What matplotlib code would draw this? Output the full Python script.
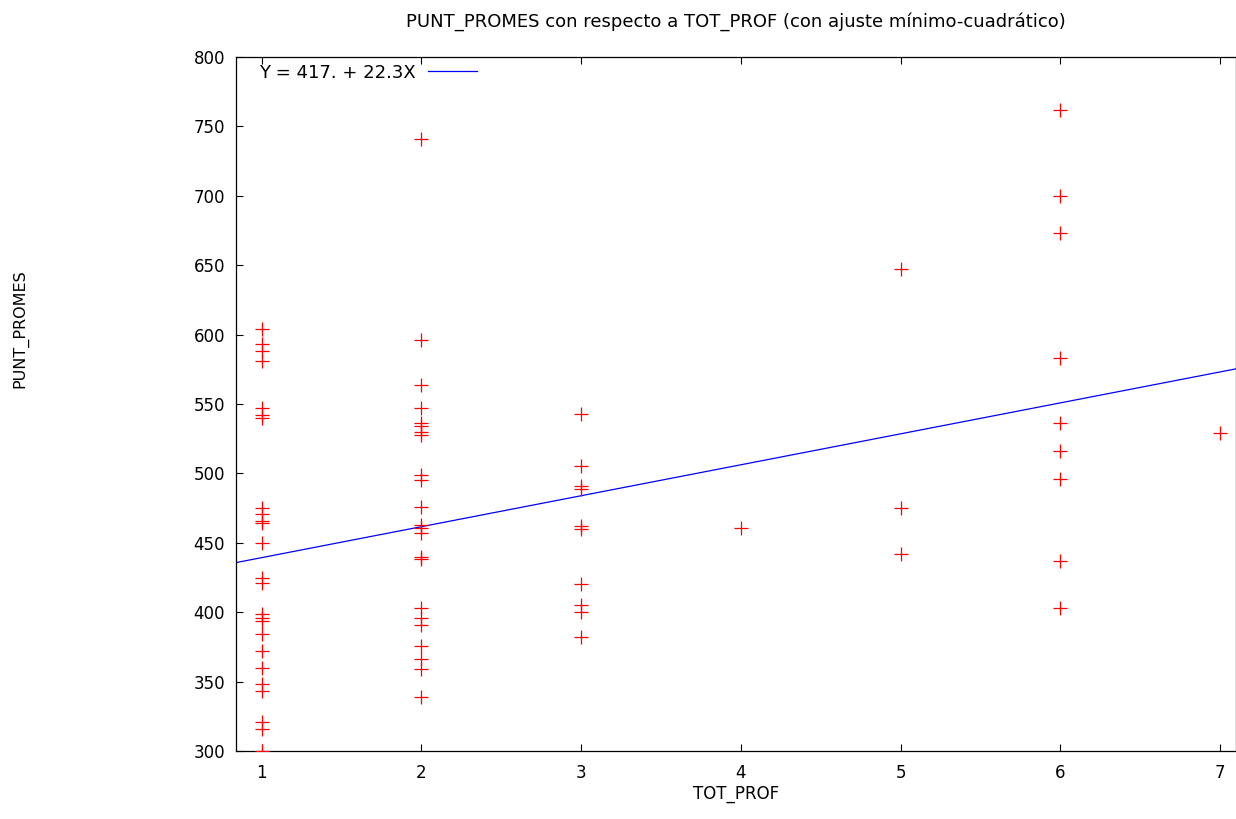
import numpy as np
import matplotlib
matplotlib.use("Agg")
import matplotlib.pyplot as plt

# TOT_PROF values, grouped by column
x1 = [1] * 25
y1 = [604, 593, 588, 581, 547, 542, 540, 475, 471, 466, 464, 450, 425, 421,
      399, 396, 394, 384, 372, 360, 348, 343, 321, 316, 300]
x2 = [2] * 23
y2 = [741, 596, 564, 547, 536, 534, 530, 528, 499, 495, 476, 463, 461, 457,
      440, 438, 403, 396, 391, 376, 366, 359, 339]
x3 = [3] * 10
y3 = [543, 505, 491, 489, 462, 460, 420, 405, 400, 382]
x4 = [4]
y4 = [461]
x5 = [5] * 3
y5 = [647, 475, 442]
x6 = [6] * 9
y6 = [762, 700, 673, 583, 536, 516, 496, 437, 403]
x7 = [7]
y7 = [529]

tot_prof = np.array(x1 + x2 + x3 + x4 + x5 + x6 + x7)
punt_promes = np.array(y1 + y2 + y3 + y4 + y5 + y6 + y7)

intercept = 417.0
slope = 22.3
fit_label = "Y = 417. + 22.3X"

XMIN, XMAX = 0.84, 7.1
YMIN, YMAX = 300, 800

plt.rcParams["font.family"] = ["DejaVu Sans"]

fig = plt.figure(figsize=(12.36, 8.19), dpi=100)
ax = fig.add_axes([236 / 1236, 1 - 751 / 819, 1 - 236 / 1236, (751 - 57) / 819])

ax.scatter(tot_prof, punt_promes, marker="+", s=110, color="#ff0000",
           linewidths=0.9, zorder=3)
xs = np.array([XMIN, XMAX])
ax.plot(xs, intercept + slope * xs, color="#0000ff", linewidth=0.9,
        label=fit_label, zorder=2)

ax.set_xlim(XMIN, XMAX)
ax.set_ylim(YMIN, YMAX)
ax.set_xticks(range(1, 8))
ax.set_yticks(range(300, 801, 50))
ax.tick_params(direction="in", length=5, width=0.8, top=True, right=False,
               labelsize=12, colors="#000000")
ax.tick_params(axis="x", pad=9)
ax.tick_params(axis="y", pad=8)
for s in ax.spines.values():
    s.set_linewidth(0.9)
    s.set_color("black")

ax.legend(loc="center left", frameon=False, markerfirst=False, handlelength=2.7,
          fontsize=13, borderpad=0, borderaxespad=0,
          bbox_to_anchor=(23 / 1000, 1 - 15.5 / 694), handletextpad=0.67)

fig.text(736 / 1236, 1 - 21.5 / 819,
         "PUNT_PROMES con respecto a TOT_PROF (con ajuste mínimo-cuadrático)",
         ha="center", va="center", fontsize=13)
fig.text(736 / 1236, 1 - 794 / 819, "TOT_PROF", ha="center", va="center",
         fontsize=12)
fig.text(20 / 1236, 1 - 329 / 819, "PUNT_PROMES", ha="center", va="center",
         rotation=90, fontsize=11.5)

fig.savefig("out.png", dpi=100)
